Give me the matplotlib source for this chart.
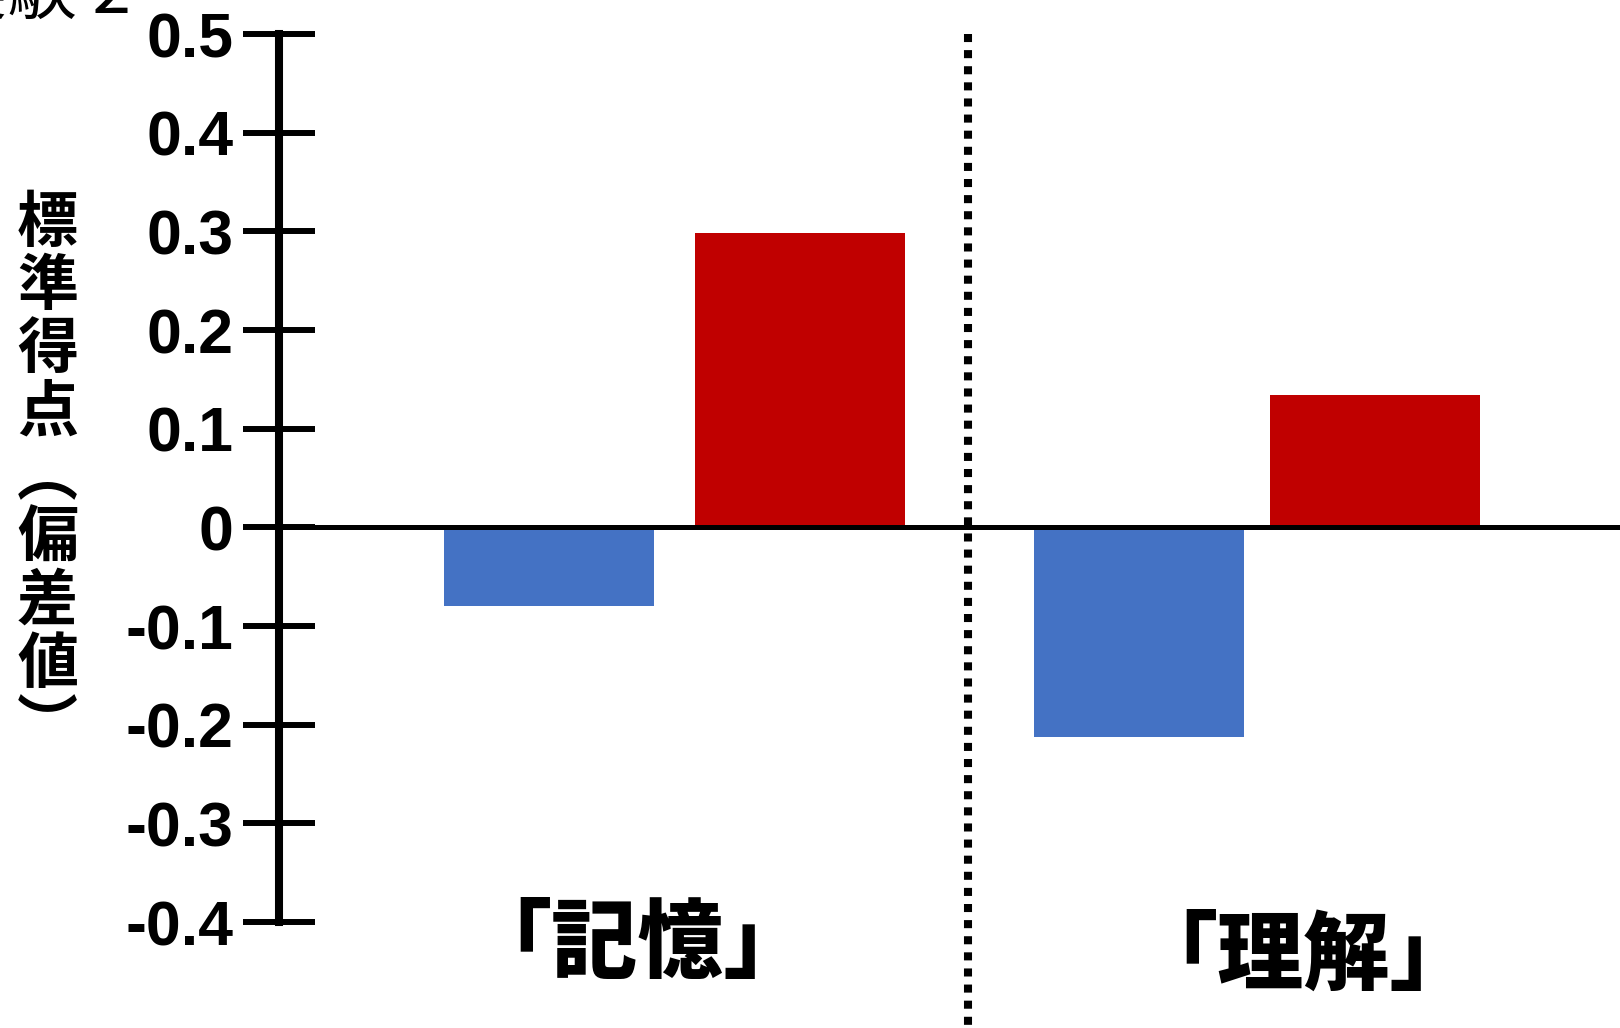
import matplotlib
matplotlib.use("Agg")
import matplotlib.pyplot as plt
from matplotlib.transforms import blended_transform_factory

plt.rcParams['font.family'] = ['Noto Sans CJK JP', 'DejaVu Sans']

# ---- data ----
categories = ["「記憶」", "「理解」"]
blue_values = [-0.08, -0.212]
red_values = [0.298, 0.134]
yticks = [0.5, 0.4, 0.3, 0.2, 0.1, 0, -0.1, -0.2, -0.3, -0.4]
ytick_labels = ["0.5", "0.4", "0.3", "0.2", "0.1", "0", "-0.1", "-0.2", "-0.3", "-0.4"]
ylabel_text = "標準得点︵偏差値︶"
corner_text = "実験 2"

# ---- layout (pixel-based) ----
W, H = 1620, 1028


def fy(py):
    return 1 - py / H


fig = plt.figure(figsize=(W / 100, H / 100), dpi=100)
ax_left, ax_right, ax_top, ax_bottom = 279, 1620, 34, 922
ax = fig.add_axes([ax_left / W, fy(ax_bottom), (ax_right - ax_left) / W,
                   (ax_bottom - ax_top) / H])
ax.set_xlim(ax_left, ax_right)
ax.set_ylim(-0.4, 0.5)

blue_x = [549, 1139]
red_x = [800, 1375]
bar_w = 210

ax.bar(blue_x, blue_values, width=bar_w, color="#4472C4", zorder=2)
ax.bar(red_x, red_values, width=bar_w, color="#C00000", zorder=2)

ax.axhline(0, color="black", lw=3.6, zorder=3)

# dotted separator
trans_xd_yf = blended_transform_factory(ax.transData, fig.transFigure)
ax.plot([968, 968], [fy(34), 0], color="black", lw=5.8,
        linestyle=(0, (1, 1)), transform=trans_xd_yf, clip_on=False, zorder=3)

for s in ["top", "right", "bottom"]:
    ax.spines[s].set_visible(False)
ax.spines["left"].set_linewidth(5.8)
ax.set_xticks([])
ax.set_yticks(yticks)
ax.set_yticklabels(ytick_labels, family=["Liberation Sans", "DejaVu Sans"],
                   fontweight="bold", fontsize=45)
ax.tick_params(axis="y", direction="inout", length=51.8, width=4.3, pad=7)

# category labels
label_x = [638, 1304]
label_y = [946, 957]
for c, x, y in zip(categories, label_x, label_y):
    ax.text(x, fy(y), c, transform=trans_xd_yf, ha="center", va="center",
            fontsize=62, fontweight="black")

# y label (stacked vertical)
fig.text(47.5 / W, fy(476), "\n".join(ylabel_text), ha="center", va="center",
         fontsize=44, fontweight="bold", linespacing=1.03)

# clipped corner text
fig.text(131 / W, fy(13), corner_text, ha="right", va="baseline", fontsize=50)

fig.savefig("out.png", dpi=100)
